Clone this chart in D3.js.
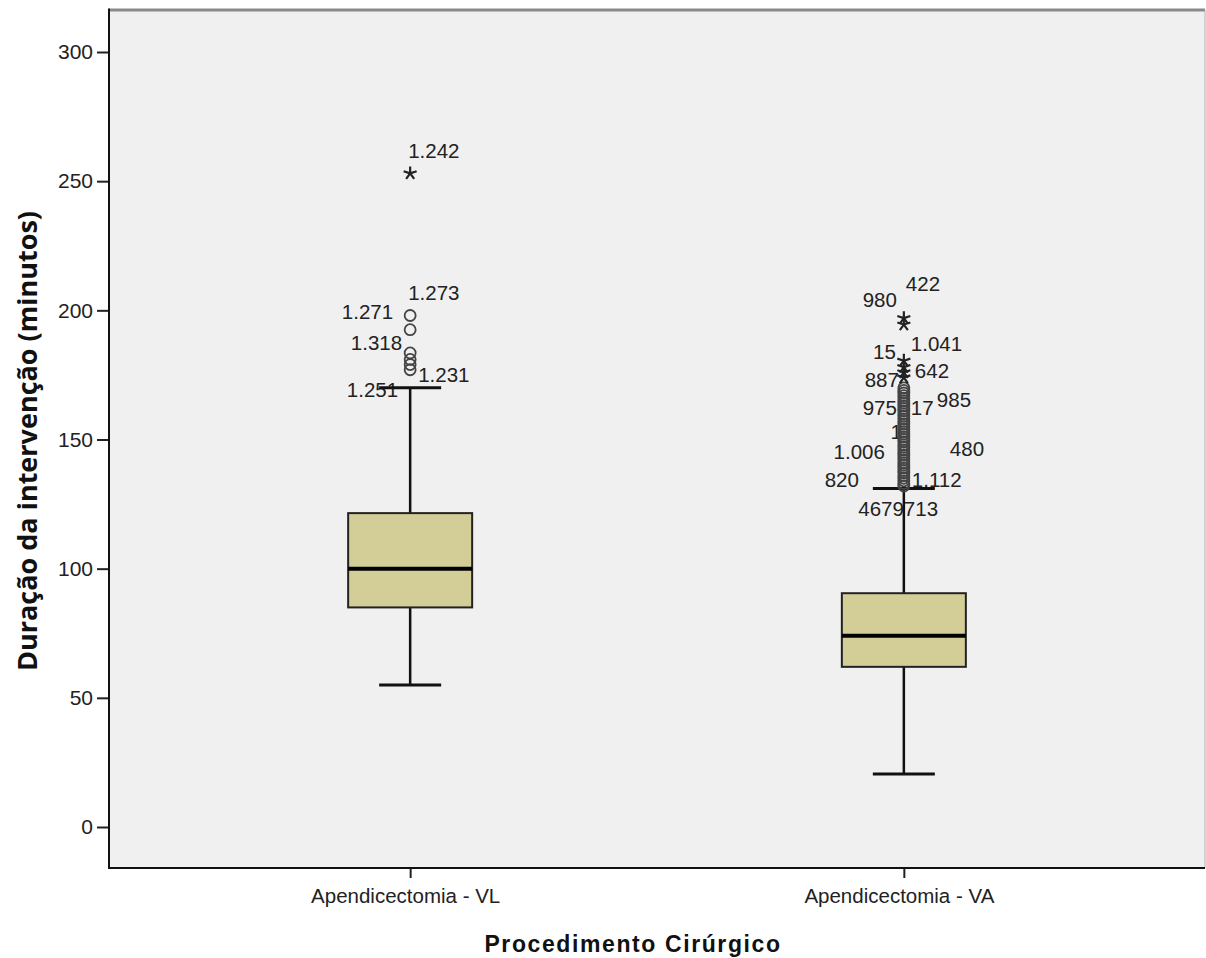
<!DOCTYPE html>
<html><head><meta charset="utf-8">
<script src="https://cdn.jsdelivr.net/npm/d3@7"></script>
<style>body{margin:0;background:#fff}svg{display:block}</style>
</head><body>
<svg id="c" width="1206" height="958"></svg>
<script>
// ---- data ----
const categories = ["Apendicectomia - VL", "Apendicectomia - VA"];
const q1 = [85, 62];
const medians = [100, 74];
const q3 = [121.5, 90.5];
const whiskerLow = [55, 20.5];
const whiskerHigh = [170, 131];
const outliersVL = [198, 192.5, 183.5, 181, 179, 177];
const extremesVL = [253];
const outliersVA = [170, 169, 168, 167, 166, 165, 164, 163, 162, 161, 160, 159, 158, 157, 156, 155, 154, 153, 152, 151, 150, 149, 148, 147, 146, 145, 144, 143, 142, 141, 140, 139, 138, 137, 136, 135, 134, 133, 132];
const extremesVA = [197, 194.5, 180.5, 178, 176, 174];
const yTicks = [0, 50, 100, 150, 200, 250, 300];
// case-number labels: text, value level on y axis
const labelTextVL = ["1.242", "1.273", "1.271", "1.318", "1.231", "1.251"];
const labelLevelVL = [262, 207, 199.4, 187.4, 175, 169.5];
const labelTextVA = ["422", "980", "1.041", "15", "642", "887", "975", "17", "985", "1", "1.006", "480", "820", "1.112", "4679", "713"];
const labelLevelVA = [210.5, 204, 187, 184, 176.5, 173, 162.5, 162.5, 165.5, 153, 145.5, 146.3, 134.5, 134.5, 123.3, 123.3];
// layout for labels (horizontal offset from category centre, anchor)
const labelDxVL = [-2, -2, -17, -8, 8, -12];
const labelAnchorVL = ["start", "start", "end", "end", "start", "end"];
const labelDxVA = [2, -7, 7, -8, 11, -5, -7, 7, 33, -2, -19, 46, -45, 8, 0, 0];
const labelAnchorVA = ["start", "end", "start", "end", "start", "end", "end", "start", "start", "end", "end", "start", "end", "start", "end", "start"];

// ---- chart ----
const svg = d3.select("#c");
const L = 109, R = 1205, T = 10, B = 868;
const y = d3.scaleLinear().domain([0, 300]).range([827, 52]);
const x = d3.scalePoint().domain(categories).range([L, R]).padding(0.61);
const font = "'Liberation Sans', Arial, sans-serif";

svg.append("rect").attr("x", L).attr("y", T).attr("width", R - L).attr("height", B - T).attr("fill", "#f0f0f0");
svg.append("line").attr("x1", L).attr("x2", R).attr("y1", T).attr("y2", T).attr("stroke", "#8a8a8a").attr("stroke-width", 3);
svg.append("line").attr("x1", R).attr("x2", R).attr("y1", T).attr("y2", B).attr("stroke", "#b0b0b0").attr("stroke-width", 1);

// y axis
const yAxis = d3.axisLeft(y).tickValues(yTicks).tickSize(12).tickPadding(4).tickFormat(d3.format("d"));
const ga = svg.append("g").attr("transform", `translate(${L},0)`).call(yAxis);
ga.select(".domain").remove();
ga.selectAll(".tick line").attr("stroke", "#222").attr("stroke-width", 2);
ga.selectAll(".tick text").attr("font-family", font).attr("font-size", 21).attr("fill", "#222");
svg.append("line").attr("x1", L).attr("x2", L).attr("y1", T - 1.5).attr("y2", B + 1).attr("stroke", "#111").attr("stroke-width", 2);

// x axis
const xAxis = d3.axisBottom(x).tickSize(10).tickPadding(10);
const gx = svg.append("g").attr("transform", `translate(0,${B})`).call(xAxis);
gx.select(".domain").remove();
gx.selectAll(".tick line").attr("stroke", "#222").attr("stroke-width", 2);
gx.selectAll(".tick text").attr("font-family", font).attr("font-size", 20.5).attr("fill", "#222").attr("dx", -5);
svg.append("line").attr("x1", L).attr("x2", R).attr("y1", B).attr("y2", B).attr("stroke", "#111").attr("stroke-width", 2);

// titles
svg.append("text").attr("x", 633).attr("y", 952).attr("text-anchor", "middle")
  .attr("font-family", font).attr("font-weight", "bold").attr("font-size", 23).attr("letter-spacing", 1.6)
  .attr("fill", "#111").text("Procedimento Cirúrgico");
svg.append("text").attr("transform", "translate(37,441) rotate(-90)").attr("text-anchor", "middle")
  .attr("font-family", "'Open Sans', sans-serif").attr("font-weight", "bold").attr("font-size", 27)
  .attr("fill", "#111").text("Duração da intervenção (minutos)");

// labels (drawn under the boxes)
function drawLabels(ci, texts, levels, dxs, anchors) {
  svg.append("g").selectAll("text").data(texts).join("text")
    .attr("x", (d, i) => x(categories[ci]) + dxs[i])
    .attr("y", (d, i) => y(levels[i]))
    .attr("dy", "0.36em")
    .attr("text-anchor", (d, i) => anchors[i])
    .attr("font-family", font).attr("font-size", 20.5).attr("fill", "#222")
    .text(d => d);
}
drawLabels(0, labelTextVL, labelLevelVL, labelDxVL, labelAnchorVL);
drawLabels(1, labelTextVA, labelLevelVA, labelDxVA, labelAnchorVA);

// boxes
const boxW = 124, capW = 62;
const g = svg.append("g");
categories.forEach((c, i) => {
  const cx = x(c);
  g.append("line").attr("x1", cx).attr("x2", cx).attr("y1", y(whiskerLow[i])).attr("y2", y(whiskerHigh[i]))
    .attr("stroke", "#111").attr("stroke-width", 2.5);
  [whiskerLow[i], whiskerHigh[i]].forEach(v => {
    g.append("line").attr("x1", cx - capW / 2).attr("x2", cx + capW / 2).attr("y1", y(v)).attr("y2", y(v))
      .attr("stroke", "#111").attr("stroke-width", 3);
  });
  g.append("rect").attr("x", cx - boxW / 2).attr("width", boxW)
    .attr("y", y(q3[i])).attr("height", y(q1[i]) - y(q3[i]))
    .attr("fill", "#d3ce97").attr("stroke", "#222").attr("stroke-width", 2);
  g.append("line").attr("x1", cx - boxW / 2).attr("x2", cx + boxW / 2).attr("y1", y(medians[i])).attr("y2", y(medians[i]))
    .attr("stroke", "#000").attr("stroke-width", 4);
});

// outliers
const star5 = {
  draw(ctx, size) {
    const r = Math.sqrt(size) * 0.6;
    for (let k = 0; k < 5; k++) {
      const a = 2 * Math.PI * k / 5;
      ctx.moveTo(0, 0);
      ctx.lineTo(r * Math.sin(a), -r * Math.cos(a));
    }
  }
};
function drawCircles(ci, vals) {
  svg.append("g").selectAll("circle").data(vals).join("circle")
    .attr("cx", x(categories[ci])).attr("cy", d => y(d)).attr("r", 5.5)
    .attr("fill", "none").attr("stroke", "#444").attr("stroke-width", 1.8);
}
function drawStars(ci, vals) {
  svg.append("g").selectAll("path").data(vals).join("path")
    .attr("transform", d => `translate(${x(categories[ci])},${y(d)})`)
    .attr("d", d3.symbol().type(star5).size(130))
    .attr("fill", "none").attr("stroke", "#222").attr("stroke-width", 2.2);
}
drawCircles(0, outliersVL); drawStars(0, extremesVL);
drawCircles(1, outliersVA); drawStars(1, extremesVA);
</script>
</body></html>
